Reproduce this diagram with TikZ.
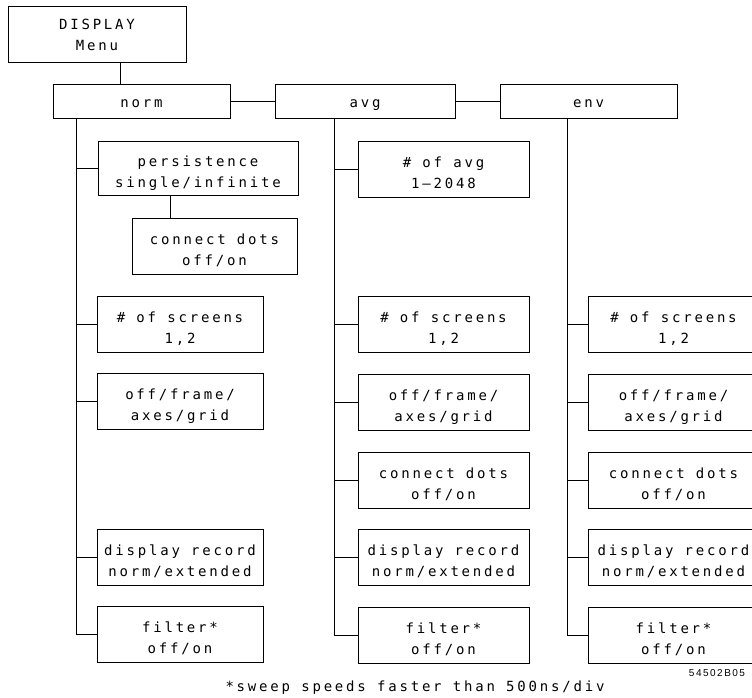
\documentclass[tikz,border=0pt]{standalone}
\usepackage{fontspec}
\setmainfont{DejaVu Sans Mono}[LetterSpace=20]
\newfontfamily\codefont{Liberation Sans}[LetterSpace=15]
\begin{document}
\begin{tikzpicture}[x=1pt,y=-1pt,
  mbox/.style={draw, line width=0.8pt, minimum height=56pt, align=center, inner sep=0pt,
    text height=38pt, text depth=0pt, font=\fontsize{14}{21}\selectfont},
  tbox/.style={mbox, minimum height=34pt, text height=14pt},
  lcol/.style={minimum width=166pt},
  acol/.style={minimum width=171pt},
  link/.style={line width=0.8pt}]
\useasboundingbox (0,0) rectangle (752,698);
% top
\node[mbox, minimum width=178pt, text height=34pt] (disp) at (97,34) {DISPLAY\\Menu};
\node[tbox, minimum width=177pt] (norm) at (141.5,101) {norm};
\node[tbox, minimum width=180pt] (avg) at (365,101) {avg};
\node[tbox, minimum width=177pt] (env) at (588.5,101) {env};
% norm column
\node[mbox, minimum width=200pt, minimum height=54pt] (pers) at (198,168) {persistence\\single/infinite};
\node[mbox, minimum width=165pt] (ncd) at (214.5,246) {connect dots\\off/on};
\node[mbox, lcol] (nscr) at (180,324) {\# of screens\\1,2};
\node[mbox, lcol] (nfr) at (180,401.5) {off/frame/\\axes/grid};
\node[mbox, lcol] (ndr) at (180,557) {display record\\norm/extended};
\node[mbox, lcol] (nfi) at (180,634.5) {filter*\\off/on};
% avg column
\node[mbox, acol] (aavg) at (443.5,169) {\# of avg\\1--2048};
\node[mbox, acol] (ascr) at (443.5,324) {\# of screens\\1,2};
\node[mbox, acol] (afr) at (443.5,402) {off/frame/\\axes/grid};
\node[mbox, acol] (acd) at (443.5,480) {connect dots\\off/on};
\node[mbox, acol] (adr) at (443.5,557.5) {display record\\norm/extended};
\node[mbox, acol] (afi) at (443.5,635) {filter*\\off/on};
% env column
\node[mbox, acol] (escr) at (673.5,324) {\# of screens\\1,2};
\node[mbox, acol] (efr) at (673.5,402) {off/frame/\\axes/grid};
\node[mbox, acol] (ecd) at (673.5,480) {connect dots\\off/on};
\node[mbox, acol] (edr) at (673.5,557.5) {display record\\norm/extended};
\node[mbox, acol] (efi) at (673.5,635) {filter*\\off/on};
% coordinates
\coordinate (dsp) at (120,62);
\coordinate (psp) at (170,195);
\coordinate (nsp) at (76,118);
\coordinate (asp) at (334,118);
\coordinate (esp) at (567,118);
% connectors
\draw[link] (dsp) -- (dsp |- norm.north);
\draw[link] (norm.east) -- (avg.west);
\draw[link] (avg.east) -- (env.west);
\draw[link] (psp) -- (psp |- ncd.north);
\draw[link] (nsp) |- (nfi.west);
\foreach \n in {pers,nscr,nfr,ndr} \draw[link] (nsp |- \n.west) -- (\n.west);
\draw[link] (asp) |- (afi.west);
\foreach \n in {aavg,ascr,afr,acd,adr} \draw[link] (asp |- \n.west) -- (\n.west);
\draw[link] (esp) |- (efi.west);
\foreach \n in {escr,efr,ecd,edr} \draw[link] (esp |- \n.west) -- (\n.west);
% notes
\node[font=\fontsize{14}{17}\selectfont] (note) at (415,688) {*sweep speeds faster than 500ns/div};
\node[font=\codefont\fontsize{10}{11}\selectfont] (code) at (717,673) {54502B05};
\end{tikzpicture}
\end{document}
